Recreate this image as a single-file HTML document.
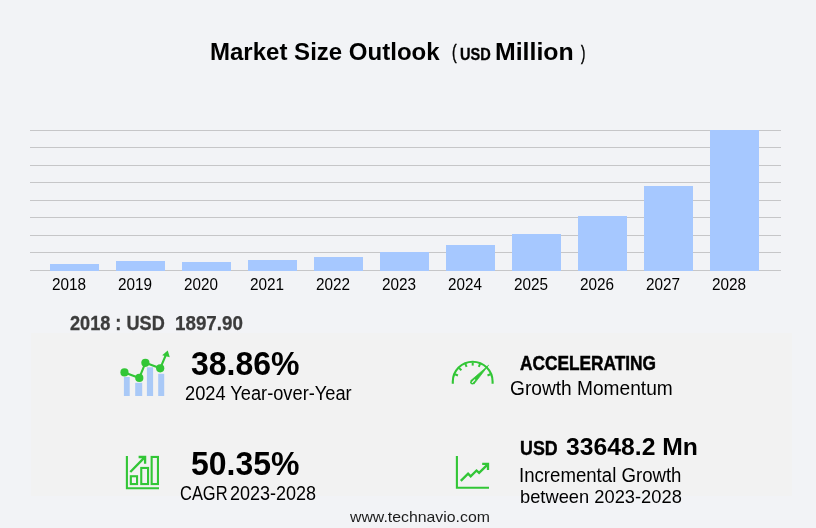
<!DOCTYPE html>
<html lang="en"><head><meta charset="utf-8"><title>Market Size Outlook</title><style>
html,body{margin:0;padding:0;background:#f2f3f6;}
body{width:816px;height:528px;overflow:hidden;position:relative;font-family:'Liberation Sans', Arial, sans-serif;}
.panel{position:absolute;left:31px;top:333px;width:761px;height:163px;background:#f2f2f2;}
svg.g{position:absolute;left:0;top:0;pointer-events:none;}
.t{position:absolute;white-space:pre;line-height:1;transform-origin:0 0;}
</style></head><body>
<header class="title"><span class="t" id="t1" style="left:210.38px;top:39.88px;font-size:23.75px;font-weight:700;color:#000;transform:scaleX(1.0115)">Market Size Outlook</span><span class="t" id="t2" style="left:451.82px;top:43.27px;font-size:19.75px;font-weight:400;color:#000;-webkit-text-stroke:0.5px #000;transform:scaleX(0.7000)">(</span><span class="t" id="t3" style="left:459.98px;top:46.80px;font-size:15.75px;font-weight:700;color:#000;-webkit-text-stroke:0.3px #000;transform:scaleX(0.9238)">USD</span><span class="t" id="t4" style="left:495.33px;top:39.88px;font-size:23.75px;font-weight:700;color:#000;transform:scaleX(1.0464)">Million</span><span class="t" id="t5" style="left:581.34px;top:42.50px;font-size:20.00px;font-weight:400;color:#000;-webkit-text-stroke:0.5px #000;transform:scaleX(0.6476)">)</span></header>
<section class="chart">
<svg class="g bars" width="816" height="528" viewBox="0 0 816 528">
<rect x="30" y="130" width="751" height="1" fill="#c6c6c8"/>
<rect x="30" y="147" width="751" height="1" fill="#c6c6c8"/>
<rect x="30" y="165" width="751" height="1" fill="#c6c6c8"/>
<rect x="30" y="182" width="751" height="1" fill="#c6c6c8"/>
<rect x="30" y="200" width="751" height="1" fill="#c6c6c8"/>
<rect x="30" y="217" width="751" height="1" fill="#c6c6c8"/>
<rect x="30" y="235" width="751" height="1" fill="#c6c6c8"/>
<rect x="30" y="252" width="751" height="1" fill="#c6c6c8"/>
<rect x="30" y="270" width="751" height="1" fill="#c6c6c8"/>
<rect x="50" y="264" width="49" height="7" fill="#a6c8ff"/>
<rect x="116" y="261" width="49" height="10" fill="#a6c8ff"/>
<rect x="182" y="262" width="49" height="9" fill="#a6c8ff"/>
<rect x="248" y="260" width="49" height="11" fill="#a6c8ff"/>
<rect x="314" y="257" width="49" height="14" fill="#a6c8ff"/>
<rect x="380" y="252" width="49" height="19" fill="#a6c8ff"/>
<rect x="446" y="245" width="49" height="26" fill="#a6c8ff"/>
<rect x="512" y="234" width="49" height="37" fill="#a6c8ff"/>
<rect x="578" y="216" width="49" height="55" fill="#a6c8ff"/>
<rect x="644" y="186" width="49" height="85" fill="#a6c8ff"/>
<rect x="710" y="130" width="49" height="141" fill="#a6c8ff"/>
</svg>
<div class="xaxis"><span class="t" id="y2018" style="left:51.77px;top:276.85px;font-size:15.75px;font-weight:400;color:#000;transform:scaleX(0.9731)">2018</span><span class="t" id="y2019" style="left:117.77px;top:276.85px;font-size:15.75px;font-weight:400;color:#000;transform:scaleX(0.9731)">2019</span><span class="t" id="y2020" style="left:183.78px;top:276.85px;font-size:15.75px;font-weight:400;color:#000;transform:scaleX(0.9659)">2020</span><span class="t" id="y2021" style="left:249.77px;top:276.85px;font-size:15.75px;font-weight:400;color:#000;transform:scaleX(0.9731)">2021</span><span class="t" id="y2022" style="left:315.77px;top:276.85px;font-size:15.75px;font-weight:400;color:#000;transform:scaleX(0.9731)">2022</span><span class="t" id="y2023" style="left:381.77px;top:276.85px;font-size:15.75px;font-weight:400;color:#000;transform:scaleX(0.9731)">2023</span><span class="t" id="y2024" style="left:447.78px;top:276.85px;font-size:15.75px;font-weight:400;color:#000;transform:scaleX(0.9659)">2024</span><span class="t" id="y2025" style="left:513.77px;top:276.85px;font-size:15.75px;font-weight:400;color:#000;transform:scaleX(0.9731)">2025</span><span class="t" id="y2026" style="left:579.77px;top:276.85px;font-size:15.75px;font-weight:400;color:#000;transform:scaleX(0.9731)">2026</span><span class="t" id="y2027" style="left:645.77px;top:276.85px;font-size:15.75px;font-weight:400;color:#000;transform:scaleX(0.9731)">2027</span><span class="t" id="y2028" style="left:711.77px;top:276.85px;font-size:15.75px;font-weight:400;color:#000;transform:scaleX(0.9731)">2028</span></div>
</section>
<div class="base-value"><span class="t" id="v0" style="left:70.30px;top:313.73px;font-size:19.50px;font-weight:700;color:#3c3c3c;-webkit-text-stroke:0.3px #3c3c3c;transform:scaleX(0.9297)">2018 : USD</span><span class="t" id="v1" style="left:175.00px;top:313.73px;font-size:19.50px;font-weight:700;color:#3c3c3c;-webkit-text-stroke:0.25px #3c3c3c;transform:scaleX(0.9635)">1897.90</span></div>
<section class="stats">
<div class="panel"></div>
<div class="stat yoy"><svg class="g icon" width="816" height="528" viewBox="0 0 816 528">
<rect x="123.9" y="377" width="5.8" height="19.0" fill="#a9c9f7"/>
<rect x="135.2" y="382.8" width="7.0" height="13.2" fill="#a9c9f7"/>
<rect x="146.9" y="367.3" width="6.2" height="28.7" fill="#a9c9f7"/>
<rect x="158.2" y="373.8" width="6.0" height="22.2" fill="#a9c9f7"/>
<polyline fill="none" stroke="#32c636" stroke-width="2.1" stroke-linejoin="round" points="124.5,372.4 139.3,377.9 145.4,362.8 160.2,368.3 166.5,353.5"/>
<circle cx="124.5" cy="372.4" r="4.1" fill="#32c636"/>
<circle cx="139.3" cy="377.9" r="4.1" fill="#32c636"/>
<circle cx="145.4" cy="362.8" r="4.1" fill="#32c636"/>
<circle cx="160.2" cy="368.3" r="4.1" fill="#32c636"/>
<polygon points="167.7,350.4 169.8,357.3 162.2,355.3" fill="#32c636"/>
</svg><span class="t" id="a1" style="left:191.26px;top:347.75px;font-size:32.50px;font-weight:700;color:#000;transform:scaleX(0.9843)">38.86%</span><span class="t" id="a2" style="left:184.89px;top:382.73px;font-size:20.00px;font-weight:400;color:#000;transform:scaleX(0.9118)">2024 Year-over-Year</span></div>
<div class="stat momentum"><svg class="g icon" width="816" height="528" viewBox="0 0 816 528">
<path d="M452.8,383.8 V381.6 A19.9,19.9 0 0 1 492.59999999999997,381.6 V383.8" fill="none" stroke="#32c636" stroke-width="2.1"/>
<line x1="455.05" y1="374.29" x2="457.92" y2="375.48" stroke="#32c636" stroke-width="2"/>
<line x1="459.19" y1="368.09" x2="461.39" y2="370.29" stroke="#32c636" stroke-width="2"/>
<line x1="465.39" y1="363.95" x2="466.58" y2="366.82" stroke="#32c636" stroke-width="2"/>
<line x1="472.70" y1="362.50" x2="472.70" y2="365.60" stroke="#32c636" stroke-width="2"/>
<line x1="480.01" y1="363.95" x2="478.82" y2="366.82" stroke="#32c636" stroke-width="2"/>
<line x1="490.35" y1="374.29" x2="487.48" y2="375.48" stroke="#32c636" stroke-width="2"/>
<circle cx="472.5" cy="382.2" r="2.35" fill="#32c636"/>
<polygon points="474.21,383.82 488.60,365.20 470.79,380.58" fill="#32c636" stroke="#32c636" stroke-width="0.7" stroke-linejoin="round"/>
<path d="M472.30,382.40 L474.70,379.88" stroke="#f2f2f2" stroke-width="1.3" stroke-linecap="round"/>
</svg><span class="t" id="b1" style="left:519.87px;top:352.77px;font-size:20.00px;font-weight:700;color:#000;-webkit-text-stroke:0.5px #000;transform:scaleX(0.8642)">ACCELERATING</span><span class="t" id="b2" style="left:509.92px;top:378.83px;font-size:19.50px;font-weight:400;color:#000;transform:scaleX(0.9817)">Growth Momentum</span></div>
<div class="stat cagr"><svg class="g icon" width="816" height="528" viewBox="0 0 816 528">
<path d="M126.9,455.9 V488.3 H159" fill="none" stroke="#32c636" stroke-width="2.1"/>
<rect x="130.85" y="476.25" width="6.20" height="7.80" fill="none" stroke="#32c636" stroke-width="2.1"/>
<rect x="141.25" y="467.95" width="6.80" height="16.10" fill="none" stroke="#32c636" stroke-width="2.1"/>
<rect x="151.65" y="456.95" width="6.30" height="27.10" fill="none" stroke="#32c636" stroke-width="2.1"/>
<path d="M130.3,472 L144.6,457.4 M138.6,457 H145.1 V463.8" fill="none" stroke="#32c636" stroke-width="2.3"/>
</svg><span class="t" id="c1" style="left:191.22px;top:447.80px;font-size:32.50px;font-weight:700;color:#000;transform:scaleX(0.9838)">50.35%</span><span class="t" id="c2" style="left:180.06px;top:483.67px;font-size:19.50px;font-weight:400;color:#000;transform:scaleX(0.8442)">CAGR</span><span class="t" id="c3" style="left:230.08px;top:483.67px;font-size:19.50px;font-weight:400;color:#000;transform:scaleX(0.9235)">2023-2028</span></div>
<div class="stat growth"><svg class="g icon" width="816" height="528" viewBox="0 0 816 528">
<path d="M456.9,455.9 V487.7 H489" fill="none" stroke="#32c636" stroke-width="2.1"/>
<path d="M460.8,480.9 L468.1,473.6 L470.7,476.25 L476.5,470.5 L479.1,472.9 L487.5,464.6 M482.2,463.9 H488 V470" fill="none" stroke="#32c636" stroke-width="2.3"/>
</svg><span class="t" id="d0" style="left:519.69px;top:437.82px;font-size:20.00px;font-weight:700;color:#000;-webkit-text-stroke:0.4px #000;transform:scaleX(0.8919)">USD</span><span class="t" id="d1" style="left:565.98px;top:435.02px;font-size:23.75px;font-weight:700;color:#000;transform:scaleX(1.0413)">33648.2 Mn</span><span class="t" id="d2" style="left:519.13px;top:466.20px;font-size:19.50px;font-weight:400;color:#000;transform:scaleX(0.9549)">Incremental Growth</span><span class="t" id="d3" style="left:520.16px;top:488.48px;font-size:18.50px;font-weight:400;color:#000;transform:scaleX(0.9895)">between 2023-2028</span></div>
</section>
<footer><span class="t" id="f1" style="left:350.30px;top:508.65px;font-size:15.00px;font-weight:400;color:#1c1c1c;transform:scaleX(1.0555)">www.technavio.com</span></footer>
</body></html>
